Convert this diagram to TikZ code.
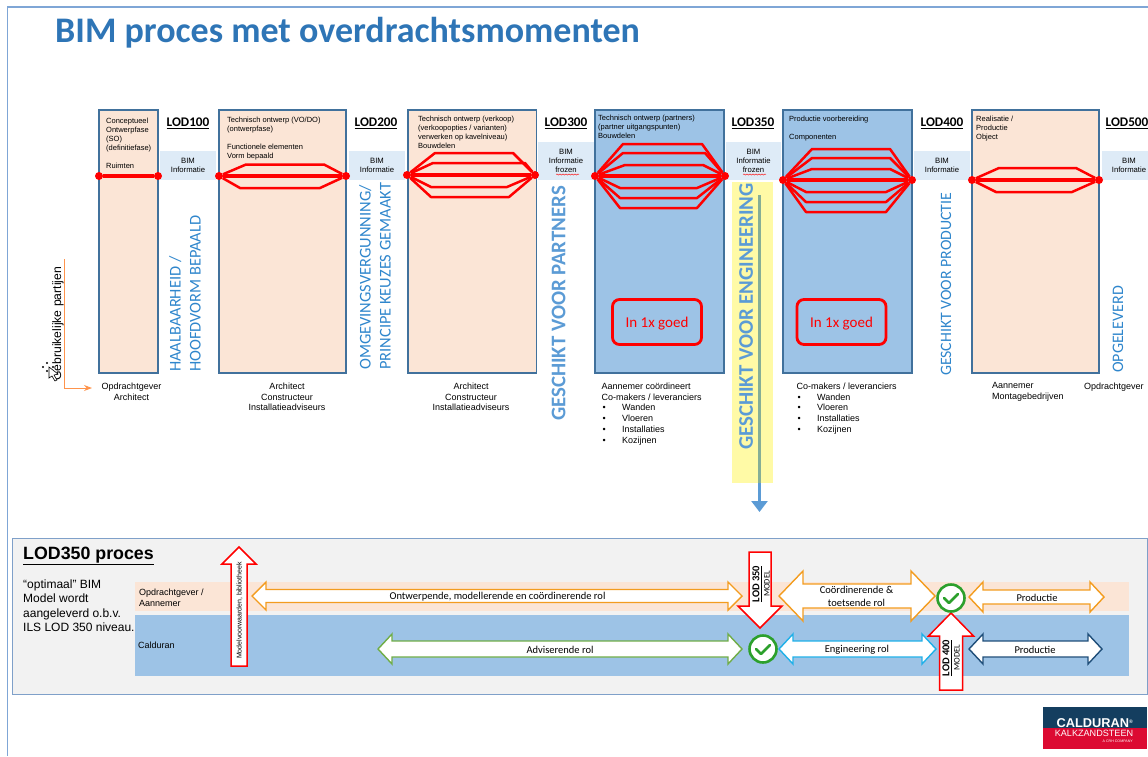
\documentclass[tikz,border=0pt]{standalone}
\usepackage{fontspec}
\setmainfont{Liberation Sans}
\newfontfamily\calibri{Carlito}
\usetikzlibrary{arrows.meta,decorations.pathmorphing}
\definecolor{framec}{HTML}{7FA6D6}
\definecolor{titlec}{HTML}{2E75B6}
\definecolor{upc}{HTML}{2F86CC}
\definecolor{lightb}{HTML}{5B9BD5}
\definecolor{peachc}{HTML}{FBE5D6}
\definecolor{blockc}{HTML}{9DC3E6}
\definecolor{bandc}{HTML}{DEEBF7}
\definecolor{edgec}{HTML}{41719C}
\definecolor{orangec}{HTML}{F39C1F}
\definecolor{greenc}{HTML}{70AD47}
\definecolor{skyc}{HTML}{1FB0E8}
\definecolor{navyc}{HTML}{1F4E79}
\definecolor{okc}{HTML}{2CA02C}
\definecolor{stripc}{HTML}{86AE96}
\definecolor{logob}{HTML}{143E5F}
\definecolor{logor}{HTML}{DC0A32}
\tikzset{
  boxtext/.style={font=\fontsize{7.5}{9}\selectfont,align=left,anchor=north west,inner sep=0pt},
  bimtext/.style={font=\fontsize{7.7}{9}\selectfont,align=center,inner sep=0pt},
  roletext/.style={font=\fontsize{9}{10.8}\selectfont,align=center,anchor=north,inner sep=0pt},
  listtext/.style={roletext,align=left,anchor=north west},
  lodtext/.style={font=\calibri\bfseries\fontsize{13.2}{15}\selectfont,inner sep=0pt},
  uptext/.style={font=\calibri\fontsize{#1}{20}\selectfont,rotate=90,anchor=west,align=left,inner sep=0pt,text=upc},
  uptext/.default=16.4,
  arrowtext/.style={font=\calibri\fontsize{10.5}{12.5}\selectfont,align=center,inner sep=0pt},
  reddot/.style={circle,fill=red,inner sep=0pt,minimum size=8pt},
  redbow/.style={draw=red,line width=2.5pt,line join=round},
  okring/.style={circle,draw=okc,fill=white,line width=2.6pt,inner sep=0pt,minimum size=27pt},
  goedbox/.style={draw=red,line width=2.8pt,rounded corners=7pt,minimum width=89pt,minimum height=45pt,text=red,text height=10pt,text depth=0pt,font=\calibri\fontsize{15}{17}\selectfont}
}
\newcommand{\listline}[1]{\makebox[20.5pt][l]{\hspace{1pt}•}#1}
\begin{document}
\begin{tikzpicture}[x=1pt,y=-1pt]
\useasboundingbox(0,0)rectangle(1148,756);
\draw[framec,line width=1.2pt](1148,7)--(7.5,7)--(7.5,756);
\node[font=\calibri\bfseries\fontsize{36}{38}\selectfont,text=titlec,anchor=west,inner sep=0pt](title)at(55,33){BIM proces met overdrachtsmomenten};
%boxes
\foreach \xa/\xb/\col in {99/158/peachc,219/346/peachc,408/536.5/peachc,595/724/blockc,783/912/blockc,972/1099/peachc}
  \draw[edgec,fill=\col,line width=1.4pt](\xa,110)rectangle(\xb,373);
%BIM bands
\foreach \xa/\xb/\ya in {160/216/151,349/405/151,538/594/142,726/781/142,914/970/151,1102/1148/151}
  \fill[bandc](\xa,\ya)rectangle(\xb,180);
\node[bimtext](bim1)at(188,165.5){BIM\\Informatie};
\node[bimtext](bim2)at(377,165.5){BIM\\Informatie};
\node[bimtext](bim3)at(566,160.5){BIM\\Informatie\\frozen};
\node[bimtext](bim4)at(753.5,160.5){BIM\\Informatie\\frozen};
\node[bimtext](bim5)at(942,165.5){BIM\\Informatie};
\node[bimtext](bim6)at(1129,165.5){BIM\\Informatie};
\draw[red,line width=.4pt,decorate,decoration={snake,amplitude=.6pt,segment length=3pt}](556,174.5)--(579,174.5);
\draw[red,line width=.4pt,decorate,decoration={snake,amplitude=.6pt,segment length=3pt}](743,174.5)--(766,174.5);
%LOD labels
\foreach \n/\xc in {100/188,200/376,300/566,350/753,400/942,500/1127}
  \node[lodtext](lod\n)at(\xc,123){\underline{LOD\n}};
%box texts
\node[boxtext](txt1)at(106,117.5){Conceptueel\\Ontwerpfase\\(SO)\\(definitiefase)\\[9pt]Ruimten};
\node[boxtext](txt2)at(227,117){Technisch ontwerp (VO/DO)\\(ontwerpfase)\\[9pt]Functionele elementen\\Vorm bepaald};
\node[boxtext](txt3)at(418,115.5){Technisch ontwerp (verkoop)\\(verkoopopties / varianten)\\verwerken op kavelniveau)\\Bouwdelen};
\node[boxtext](txt4)at(598,115){Technisch ontwerp (partners)\\(partner uitgangspunten)\\Bouwdelen};
\node[boxtext](txt5)at(789,116){Productie voorbereiding\\[9pt]Componenten};
\node[boxtext](txt6)at(976,115.5){Realisatie /\\Productie\\Object};
%red lines
\foreach \n/\xa/\xb/\yc in {a/99/158/176,b/219/346/176,c/407/535/175,d/595/725/176,e/783/912/180,f/972/1099/180}{
  \node[reddot](dot\n l)at(\xa,\yc){};
  \node[reddot](dot\n r)at(\xb,\yc){};
  \draw[red,line width=3.5pt](dot\n l)--(dot\n r);
}
\foreach \n/\xa/\xb/\yc in {b/246/324/164.5,b/240/320/188,
  c/435/513/153,c/433/525/163,c/431/507/187,c/431/509/197,
  d/623/702/144,d/623/705/153,d/625/703/165,d/620/697/188,d/620/697/198,d/620/697/208,
  e/812/890/149,e/812/890/158,e/812/890/169,e/806/886/192,e/806/886/202,e/806/886/212,
  f/999/1076/168,f/996/1072/192}
  \draw[redbow](dot\n l)--(\xa,\yc)--(\xb,\yc)--(dot\n r);
\node[goedbox](goed1)at(657,322){In 1x goed};
\node[goedbox](goed2)at(841.5,322){In 1x goed};
%engineering strip
\fill[yellow!35](732,182)rectangle(773,483);
\coordinate(eng1)at(759.5,195);
\coordinate(eng2)at(759.5,483);
\coordinate(eng3)at(759.5,512);
\draw[stripc,line width=2.6pt](eng1)--(eng2);
\draw[-{Triangle[length=11pt,width=16pt]},lightb,line width=2.6pt](eng2)--(eng3);
%rotated texts
\node[uptext](up1)at(185,372){HAALBAARHEID /\\HOOFDVORM BEPAALD};
\node[uptext](up2)at(375,370){OMGEVINGSVERGUNNING/\\PRINCIPE KEUZES GEMAAKT};
\node[uptext=22,font=\calibri\bfseries\fontsize{20.8}{24}\selectfont,text=lightb](up3)at(558.5,421){GESCHIKT VOOR PARTNERS};
\node[uptext=22,font=\calibri\bfseries\fontsize{20.8}{24}\selectfont,text=lightb](up4)at(746,450){GESCHIKT VOOR ENGINEERING};
\node[uptext=15.8](up5)at(946,376){GESCHIKT VOOR PRODUCTIE};
\node[uptext=16](up6)at(1118,373){OPGELEVERD};
%bottom texts
\node[roletext](role1)at(131.5,382.5){Opdrachtgever\\Architect};
\node[roletext](role2)at(287,382.5){Architect\\Constructeur\\Installatieadviseurs};
\node[roletext](role3)at(471,382.5){Architect\\Constructeur\\Installatieadviseurs};
\node[listtext](role4)at(601.5,382.5){Aannemer coördineert\\Co-makers / leveranciers\\\listline{Wanden}\\\listline{Vloeren}\\\listline{Installaties}\\\listline{Kozijnen}};
\node[listtext](role5)at(796.5,382.5){Co-makers / leveranciers\\\listline{Wanden}\\\listline{Vloeren}\\\listline{Installaties}\\\listline{Kozijnen}};
\node[listtext](role6)at(992,382.5){Aannemer\\Montagebedrijven};
\node[listtext](role7)at(1084,382.5){Opdrachtgever};
%partijen
\coordinate(as1)at(64,259);
\coordinate(as2)at(64,388);
\coordinate(as3)at(92,388);
\draw[-{Stealth[length=8pt,width=6pt]},orange!80!red!70!white,line width=.9pt](as1)--(as2)--(as3);
\node[font=\fontsize{12.2}{14}\selectfont,rotate=90,anchor=west,inner sep=0pt](partijen)at(58,381){Gebruikelijke partijen};
\foreach \xa/\yc in {43/367,47/363,53/367,47/371}
  \fill(\xa,\yc)circle(1.2);
\draw[fill=white,line width=.6pt](49,367)--(49,378)--(52,376)--(55,381)--(57,380)--(54,375)--(58,374)--cycle;
%LOD350 panel
\draw[fill=black!5,draw=framec!85!gray,line width=1pt](12.5,538)rectangle(1147,694);
\node[font=\bfseries\fontsize{17.8}{20}\selectfont,anchor=west,inner sep=0pt](ptitle)at(23,556){\underline{LOD350 proces}};
\node[font=\fontsize{12}{14.4}\selectfont,align=left,anchor=north west,inner sep=0pt](ptext)at(23,579.5){“optimaal” BIM\\Model wordt\\aangeleverd o.b.v.\\ILS LOD 350 niveau.};
\fill[peachc](135,582)rectangle(1129,611);
\fill[blockc](135,615)rectangle(1129,676);
\node[font=\fontsize{9}{11}\selectfont,align=left,anchor=west,inner sep=0pt](party1)at(139,598){Opdrachtgever /\\Aannemer};
\node[font=\fontsize{9}{11}\selectfont,anchor=west,inner sep=0pt](party2)at(138,645.5){Calduran};
%double arrows
\foreach \xa/\xb/\yc/\hh/\sh/\hl/\col in {252/742/596/14/6.5/14/orangec,378/742/649/15/8/14/greenc,
  779/935/596/25/12/24/orangec,969/1104/597/15/7/14/orangec,779/936/649/15/8/14/skyc,969/1102/649/15/8/14/navyc}
  \draw[\col,fill=white,line width=1.4pt,line join=miter](\xa,\yc)--(\xa+\hl,\yc-\hh)--(\xa+\hl,\yc-\sh)--(\xb-\hl,\yc-\sh)--(\xb-\hl,\yc-\hh)--(\xb,\yc)--(\xb-\hl,\yc+\hh)--(\xb-\hl,\yc+\sh)--(\xa+\hl,\yc+\sh)--(\xa+\hl,\yc+\hh)--cycle;
\node[arrowtext](rol1)at(497.5,597){Ontwerpende, modellerende en coördinerende rol};
\node[arrowtext](rol2)at(560,650){Adviserende rol};
\node[arrowtext](rol3)at(856.5,596.5){Coördinerende \&\\toetsende rol};
\node[arrowtext](rol4)at(1037,598){Productie};
\node[arrowtext](rol5)at(857,649.5){Engineering rol};
\node[arrowtext](rol6)at(1035,650){Productie};
%red block arrows
\foreach \xc/\tip/\hb/\tl/\hw/\sw in {239/547/564/666/17/8,760/628/606/552/22/11,951/613/636/690/22.5/11.5}
  \draw[red,fill=white,line width=1.5pt,line join=miter](\xc,\tip)--(\xc+\hw,\hb)--(\xc+\sw,\hb)--(\xc+\sw,\tl)--(\xc-\sw,\tl)--(\xc-\sw,\hb)--(\xc-\hw,\hb)--cycle;
\node[font=\fontsize{7}{8}\selectfont,rotate=90,inner sep=0pt](voorw)at(239.5,610.5){Modelvoorwaarden, bibliotheek};
\node[font=\calibri\bfseries\fontsize{10.5}{12}\selectfont,rotate=90,inner sep=0pt](m350)at(757,584){\underline{LOD 350}};
\node[font=\calibri\fontsize{8.5}{9}\selectfont,rotate=90,inner sep=0pt](t350)at(767,584){MODEL};
\node[font=\calibri\bfseries\fontsize{10.5}{12}\selectfont,rotate=90,inner sep=0pt](m400)at(947,658){\underline{LOD 400}};
\node[font=\calibri\fontsize{8.5}{9}\selectfont,rotate=90,inner sep=0pt](t400)at(957,657.5){MODEL};
%checks
\node[okring](ok1)at(763,649){};
\node[okring](ok2)at(951,598){};
\foreach \n in {ok1,ok2}
  \draw[okc,line width=2.6pt,line cap=round,line join=round]([shift={(-7,0)}]\n.center)--++(5,5)--++(9,-9);
%logo
\fill[logob](1043,707)rectangle(1147,728);
\fill[logor](1043,728)rectangle(1147,749);
\node[font=\bfseries\fontsize{12.8}{13}\selectfont,text=white,inner sep=0pt](cald)at(1095,723.5){CALDURAN\textsuperscript{\tiny®}};
\node[font=\fontsize{9.1}{10}\selectfont,text=white,inner sep=0pt](kalk)at(1094,733.5){KALKZANDSTEEN};
\node[font=\fontsize{3.6}{4}\selectfont,text=white,anchor=east,inner sep=0pt](crh)at(1133,741){A CRH COMPANY};
\end{tikzpicture}
\end{document}
